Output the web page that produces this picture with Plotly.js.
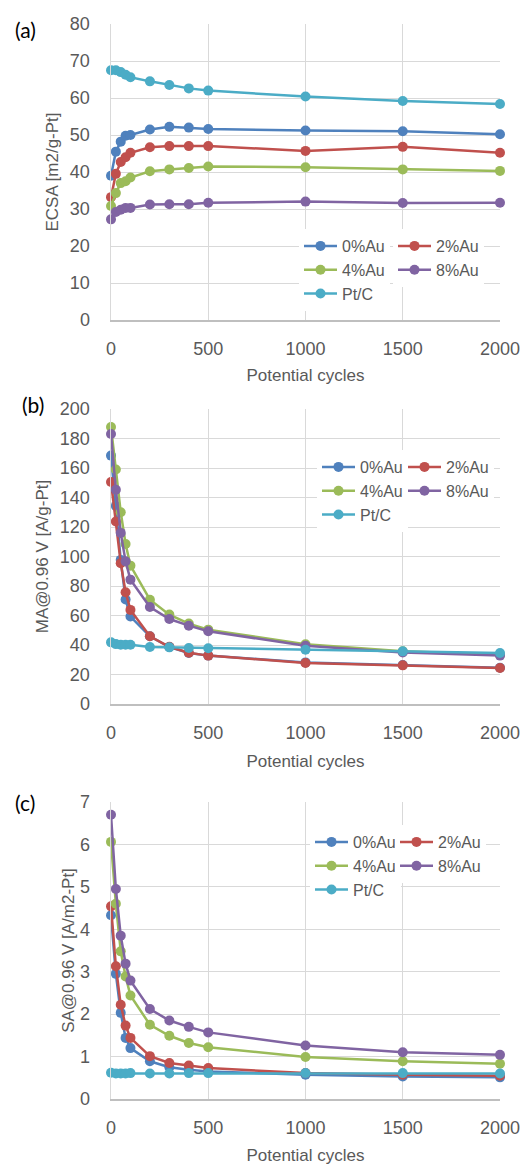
<!DOCTYPE html>
<html>
<head>
<meta charset="utf-8">
<script src="https://cdn.plot.ly/plotly-3.0.1.min.js"></script>
<style>html,body{margin:0;padding:0;background:#fff;}#chart{width:527px;height:1165px;}</style>
</head>
<body>
<div id="chart"></div>
<script>
// ---- data ----
const cycles = [0, 25, 50, 75, 100, 200, 300, 400, 500, 1000, 1500, 2000];
const seriesNames = ["0%Au", "2%Au", "4%Au", "8%Au", "Pt/C"];
const seriesColors = ["#4F81BD", "#C0504D", "#9BBB59", "#8064A2", "#4BACC6"];

// (a) ECSA [m2/g-Pt]
const ecsa_0Au = [39.0, 45.5, 48.2, 49.8, 50.0, 51.5, 52.2, 52.0, 51.6, 51.2, 51.0, 50.2];
const ecsa_2Au = [33.2, 39.5, 42.7, 44.0, 45.2, 46.7, 47.0, 47.0, 47.0, 45.7, 46.8, 45.2];
const ecsa_4Au = [30.8, 34.3, 37.0, 37.5, 38.5, 40.2, 40.7, 41.1, 41.5, 41.3, 40.7, 40.3];
const ecsa_8Au = [27.2, 29.2, 29.8, 30.3, 30.3, 31.2, 31.3, 31.3, 31.7, 32.0, 31.6, 31.7];
const ecsa_PtC = [67.5, 67.5, 67.0, 66.3, 65.6, 64.5, 63.5, 62.6, 62.0, 60.4, 59.2, 58.4];

// (b) MA@0.96 V [A/g-Pt]
const ma_0Au = [168.4, 134.3, 97.7, 70.9, 59.3, 45.9, 38.6, 34.6, 32.8, 28.2, 26.4, 24.6];
const ma_2Au = [150.5, 123.7, 95.5, 75.8, 63.8, 45.9, 38.8, 34.8, 32.8, 27.8, 26.2, 24.4];
const ma_4Au = [187.8, 159.0, 130.0, 108.5, 93.8, 70.7, 60.6, 54.5, 50.4, 40.5, 35.7, 33.4];
const ma_8Au = [183.0, 145.3, 116.0, 96.7, 84.3, 65.8, 57.6, 53.1, 49.3, 39.5, 35.0, 32.8];
const ma_PtC = [41.8, 40.6, 40.2, 40.2, 40.2, 38.6, 38.4, 38.0, 37.8, 36.8, 35.7, 34.6];

// (c) SA@0.96 V [A/m2-Pt]
const sa_0Au = [4.33, 2.95, 2.03, 1.44, 1.20, 0.89, 0.75, 0.69, 0.65, 0.57, 0.53, 0.51];
const sa_2Au = [4.54, 3.13, 2.22, 1.73, 1.44, 1.01, 0.85, 0.79, 0.73, 0.61, 0.57, 0.55];
const sa_4Au = [6.06, 4.60, 3.48, 2.89, 2.44, 1.75, 1.49, 1.32, 1.22, 0.99, 0.89, 0.83];
const sa_8Au = [6.70, 4.95, 3.85, 3.19, 2.79, 2.12, 1.85, 1.70, 1.57, 1.26, 1.10, 1.04];
const sa_PtC = [0.62, 0.60, 0.60, 0.60, 0.61, 0.60, 0.60, 0.61, 0.61, 0.61, 0.61, 0.60];

const xTicks = [0, 500, 1000, 1500, 2000];
const panelLabels = ["(a)", "(b)", "(c)"];
const yTitles = ["ECSA [m2/g-Pt]", "MA@0.96 V [A/g-Pt]", "SA@0.96 V [A/m2-Pt]"];
const xTitle = "Potential cycles";

// ---- build ----
const W = 527, H = 1165;
const panels = [
  {data: [ecsa_0Au, ecsa_2Au, ecsa_4Au, ecsa_8Au, ecsa_PtC], top: 24, bottom: 320, range: [0, 80], dtick: 10,
   standoff: 7, xstand: 11, leg: {c1: 304, c2: 398, row1: 245}},
  {data: [ma_0Au, ma_2Au, ma_4Au, ma_8Au, ma_PtC], top: 409, bottom: 704, range: [0, 200], dtick: 20,
   standoff: 7, xstand: 13, leg: {c1: 322, c2: 408, row1: 466}},
  {data: [sa_0Au, sa_2Au, sa_4Au, sa_8Au, sa_PtC], top: 802, bottom: 1099, range: [0, 7], dtick: 1,
   standoff: 1, xstand: 13, leg: {c1: 315, c2: 400, row1: 841}}
];
const xl = 111, xr = 500;
const grey = "#595959";
const tickFont = {family: "Liberation Sans, Arial, sans-serif", size: 18, color: grey};
const titleFont = {family: "Liberation Sans, Arial, sans-serif", size: 17, color: grey};
const legendFont = {family: "Liberation Sans, Arial, sans-serif", size: 16, color: grey};

const traces = [];
const layout = {
  width: W, height: H,
  margin: {l: 0, r: 0, t: 0, b: 0},
  paper_bgcolor: "#fff", plot_bgcolor: "#fff",
  showlegend: true,
  annotations: []
};

const legendName = n => (n === 1 ? "legend" : "legend" + n);

panels.forEach((p, i) => {
  const sfx = i === 0 ? "" : String(i + 1);
  // right column legend first so the left column is drawn on top of it
  const legCol2 = legendName(2 * i + 1), legCol1 = legendName(2 * i + 2);
  p.data.forEach((vals, k) => {
    traces.push({
      type: "scatter", mode: "lines+markers",
      x: cycles, y: vals, name: seriesNames[k],
      xaxis: "x" + sfx, yaxis: "y" + sfx,
      legend: (k % 2 === 0) ? legCol1 : legCol2,
      line: {color: seriesColors[k], width: 2.5},
      marker: {color: seriesColors[k], size: 10},
      cliponaxis: false
    });
  });
  layout["xaxis" + sfx] = {
    domain: [xl / W, xr / W], anchor: "y" + sfx,
    range: [0, 2000], tickvals: xTicks, showgrid: true, gridcolor: "#D9D9D9", gridwidth: 1,
    zeroline: false, showline: true, linecolor: "#BFBFBF", linewidth: 1.5,
    ticks: "outside", ticklen: 12, tickcolor: "rgba(0,0,0,0)", tickfont: tickFont,
    title: {text: xTitle, font: titleFont, standoff: p.xstand},
    fixedrange: true
  };
  layout["yaxis" + sfx] = {
    domain: [1 - p.bottom / H, 1 - p.top / H], anchor: "x" + sfx,
    range: p.range, dtick: p.dtick, showgrid: true, gridcolor: "#D9D9D9", gridwidth: 1,
    zeroline: false, showline: true, linecolor: "#D9D9D9", linewidth: 1.5,
    ticks: "outside", ticklen: 16, tickcolor: "rgba(0,0,0,0)", tickfont: tickFont,
    title: {text: yTitles[i], font: titleFont, standoff: p.standoff},
    fixedrange: true
  };
  const legBase = {
    orientation: "v", xanchor: "left", yanchor: "top",
    bgcolor: "#fff", borderwidth: 0, font: legendFont,
    itemwidth: 33, tracegroupgap: 0, xref: "paper", yref: "paper"
  };
  const legTop = p.leg.row1 - 16;
  layout[legCol1] = Object.assign({}, legBase, {x: (p.leg.c1 - 5) / W, y: 1 - legTop / H});
  layout[legCol2] = Object.assign({}, legBase, {x: (p.leg.c2 - 5) / W, y: 1 - legTop / H});
});

const labelPos = [[25, 30], [33, 404], [25, 802]];
panelLabels.forEach((t, i) => {
  layout.annotations.push({
    text: t, xref: "paper", yref: "paper",
    x: labelPos[i][0] / W, y: 1 - labelPos[i][1] / H,
    xanchor: "center", yanchor: "middle", showarrow: false,
    font: {family: "Lato, Liberation Sans, sans-serif", size: 21, color: "#000"}
  });
});

Plotly.newPlot("chart", traces, layout, {staticPlot: true});
</script>
</body>
</html>
